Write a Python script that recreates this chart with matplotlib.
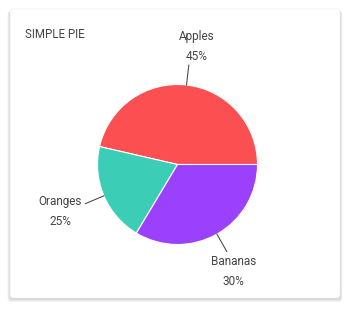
import matplotlib
matplotlib.use("Agg")
import matplotlib.pyplot as plt
from matplotlib.patches import FancyBboxPatch
import numpy as np

plt.rcParams['font.family'] = ['Roboto', 'DejaVu Sans']

# data
categories = ["Apples", "Oranges", "Bananas"]
slice_shares = [46.4, 20.0, 33.6]          # slice sizes as drawn
pct_labels = ["45%", "25%", "30%"]          # label texts as printed
colors = ["#fb4f52", "#3ccdb6", "#9b40fd"]
title = "SIMPLE PIE"

W, H = 350, 310
fig = plt.figure(figsize=(W / 100, H / 100), dpi=100)
fig.patch.set_facecolor("white")
ax = fig.add_axes([0, 0, 1, 1])

def Y(y):
    return H - y

cx, cy, R = 177.5, Y(164.5), 80
wedges, _ = ax.pie(slice_shares, colors=colors, startangle=0, counterclock=True,
                   center=(cx, cy), radius=R,
                   wedgeprops=dict(edgecolor="white", linewidth=0.8),
                   frame=True)
ax.set_xlim(0, W)
ax.set_ylim(0, H)
ax.set_aspect("auto")
ax.axis("off")
for w in wedges:
    w.set_zorder(2)

# card shadow
for i in range(6):
    off = 0.5 + i * 0.7
    sh = FancyBboxPatch((10 - i * 0.5, Y(298) - off), 330 + i * 1.0, 289 + i * 0.3,
                        boxstyle="round,pad=0,rounding_size=3",
                        fc="#000000", ec="none", alpha=0.035, zorder=0)
    ax.add_patch(sh)
card = FancyBboxPatch((10, Y(298)), 330, 289,
                      boxstyle="round,pad=0,rounding_size=3",
                      fc="white", ec="#eeeeee", lw=0.5, zorder=1)
ax.add_patch(card)

# leader lines from wedge mid-angles
for w in wedges:
    mid = np.deg2rad((w.theta1 + w.theta2) / 2)
    x0, y0 = cx + R * np.cos(mid), cy + R * np.sin(mid)
    x1, y1 = cx + 100 * np.cos(mid), cy + 100 * np.sin(mid)
    ax.plot([x0, x1], [y0, y1], color="#444444", lw=0.75, zorder=3)

txt_color = "#444444"
fs = 8.5
label_pos = {"Apples": (196.5, 36.7), "Oranges": (60.0, 201.7), "Bananas": (233.3, 261.7)}
for name, pct in zip(categories, pct_labels):
    x, y = label_pos[name]
    ax.text(x, Y(y), name, ha="center", va="center", fontsize=fs, color=txt_color, zorder=4)
    ax.text(x, Y(y + 20), pct, ha="center", va="center", fontsize=fs, color=txt_color, zorder=4)

ax.text(25, Y(34.6), title, ha="left", va="center", fontsize=8.3, color=txt_color, zorder=4)

fig.savefig("out.png", dpi=100, facecolor="white")
